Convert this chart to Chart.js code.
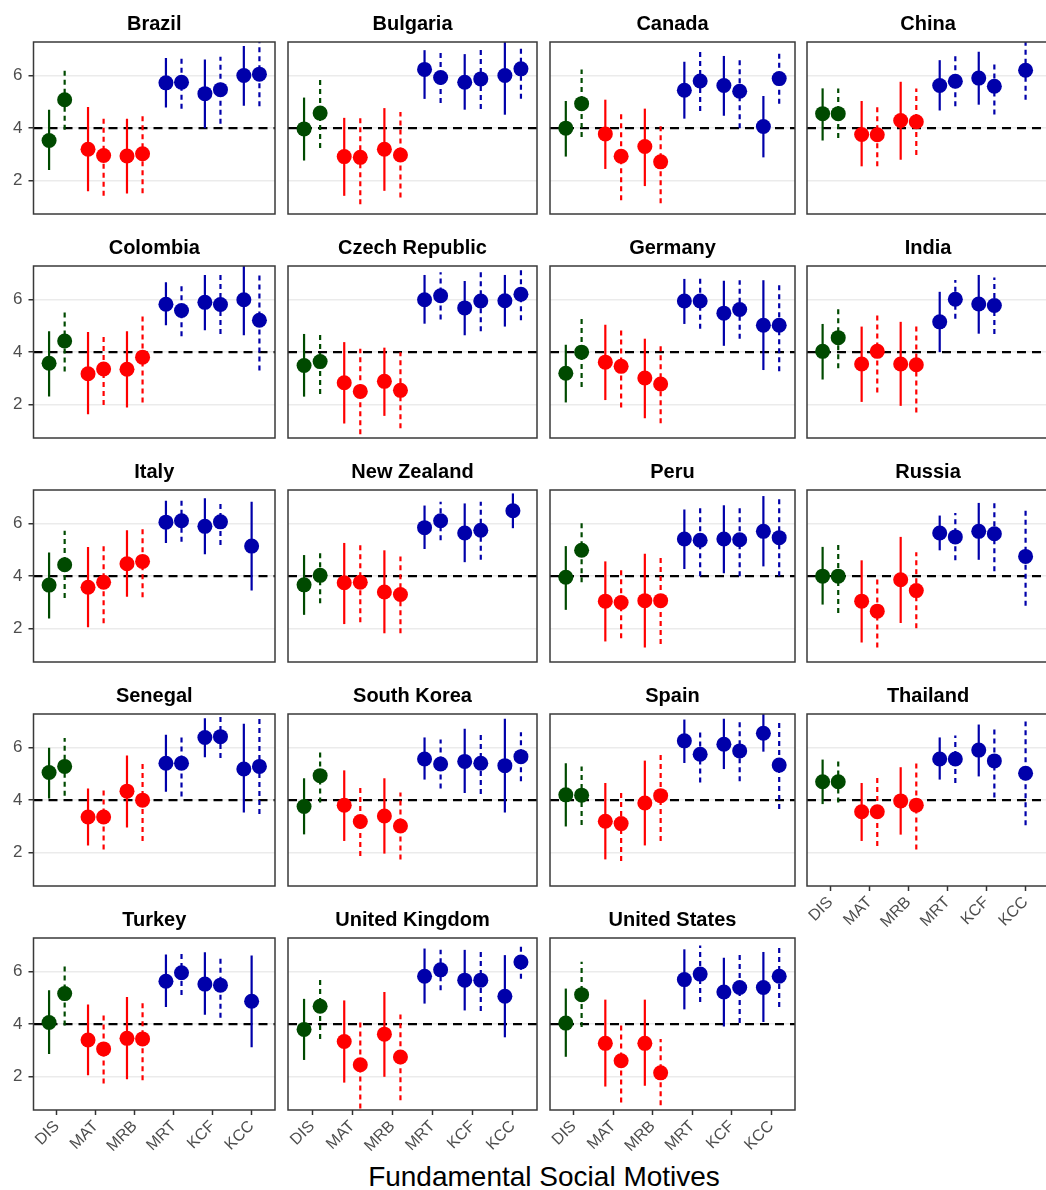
<!DOCTYPE html>
<html>
<head>
<meta charset="utf-8">
<script src="https://cdn.jsdelivr.net/npm/chart.js@4.4.1/dist/chart.umd.min.js"></script>
<style>
  body { margin: 0; background: #fff; }
  #wrap { position: relative; width: 1046px; height: 1190px; overflow: hidden; background: #fff; }
  #wrap canvas { position: absolute; }
  #xtitle {
    position: absolute; left: 244px; width: 600px; top: 1160px;
    text-align: center; line-height: 34px; font-size: 28px;
    font-family: "Liberation Sans", Arial, Helvetica, sans-serif; color: #000;
  }
</style>
</head>
<body>
<div id="wrap">
  <div id="xtitle">Fundamental Social Motives</div>
</div>
<script>
// Data: mean and bar ends per country, two groups
const countries = ['Brazil', 'Bulgaria', 'Canada', 'China', 'Colombia', 'Czech Republic',
  'Germany', 'India', 'Italy', 'New Zealand', 'Peru', 'Russia', 'Senegal', 'South Korea',
  'Spain', 'Thailand', 'Turkey', 'United Kingdom', 'United States']
const motives = ['DIS', 'MAT', 'MRB', 'MRT', 'KCF', 'KCC']
const yTicks = [2, 4, 6]
const midpoint = 4

// solid line group
const solidMean = [
  [3.53, 3.20, 2.94, 5.72, 5.31, 6.00],
  [3.97, 2.92, 3.20, 6.23, 5.74, 6.00],
  [4.00, 3.78, 3.30, 5.44, 5.62, 4.06],
  [4.55, 3.76, 4.29, 5.62, 5.90, null],
  [3.58, 3.18, 3.35, 5.82, 5.89, 5.99],
  [3.49, 2.84, 2.89, 5.99, 5.68, 5.95],
  [3.20, 3.62, 3.02, 5.94, 5.48, 5.02],
  [4.03, 3.55, 3.55, 5.15, 5.83, null],
  [3.66, 3.58, 4.47, 6.05, 5.89, 5.14],
  [3.67, 3.75, 3.40, 5.84, 5.64, 6.48],
  [3.96, 3.05, 3.07, 5.41, 5.41, 5.70],
  [4.00, 3.05, 3.86, 5.64, 5.70, null],
  [5.05, 3.36, 4.34, 5.40, 6.38, 5.18],
  [3.76, 3.81, 3.40, 5.56, 5.47, 5.31],
  [4.20, 3.20, 3.89, 6.25, 6.12, 6.54],
  [4.70, 3.56, 3.97, 5.56, 5.90, null],
  [4.06, 3.40, 3.46, 5.63, 5.52, 4.87],
  [3.80, 3.34, 3.62, 5.82, 5.67, 5.06],
  [4.04, 3.27, 3.27, 5.69, 5.22, 5.39]
]
const solidLow = [
  [2.41, 1.60, 1.52, 4.78, 4.00, 4.85],
  [2.77, 1.43, 1.62, 5.11, 4.70, 4.51],
  [2.92, 2.45, 1.80, 4.36, 4.47, 2.89],
  [3.53, 2.55, 2.80, 4.67, 4.89, null],
  [2.32, 1.64, 1.90, 5.02, 4.83, 4.64],
  [2.31, 1.29, 1.58, 5.08, 4.64, 4.97],
  [2.09, 2.18, 1.49, 5.07, 4.24, 3.32],
  [2.96, 2.11, 1.96, 4.00, 4.70, null],
  [2.39, 2.06, 3.22, 5.26, 4.83, 3.45],
  [2.53, 2.18, 1.83, 5.03, 4.53, 5.82],
  [2.72, 1.52, 1.29, 4.27, 4.11, 4.37],
  [2.92, 1.48, 2.22, 4.98, 4.62, null],
  [4.06, 2.28, 2.96, 4.32, 5.63, 3.53],
  [2.70, 2.45, 1.97, 4.78, 4.27, 3.53],
  [3.00, 1.75, 2.28, 5.41, 5.18, 5.84],
  [3.85, 2.45, 2.69, 4.78, 4.90, null],
  [2.87, 2.06, 1.91, 4.65, 4.36, 3.12],
  [2.64, 1.78, 2.00, 4.78, 4.52, 3.50],
  [2.76, 1.63, 1.66, 4.56, 3.91, 4.08]
]
const solidHigh = [
  [4.70, 4.80, 4.36, 6.66, 6.61, 7.12],
  [5.16, 4.39, 4.76, 6.96, 6.81, 7.30],
  [5.03, 5.08, 4.74, 6.52, 6.74, 5.22],
  [5.51, 5.03, 5.76, 6.58, 6.90, null],
  [4.79, 4.76, 4.79, 6.65, 6.93, 7.30],
  [4.69, 4.38, 4.17, 6.93, 6.70, 6.93],
  [4.28, 5.04, 4.51, 6.78, 6.71, 6.73],
  [5.07, 4.97, 5.15, 6.29, 6.93, null],
  [4.90, 5.11, 5.74, 6.86, 6.96, 6.82],
  [4.80, 5.26, 4.98, 6.68, 6.76, 7.14],
  [5.14, 4.56, 4.85, 6.53, 6.69, 7.04],
  [5.11, 4.60, 5.49, 6.30, 6.78, null],
  [5.99, 4.44, 5.69, 6.48, 7.11, 6.90],
  [4.83, 5.13, 4.83, 6.38, 6.71, 7.09],
  [5.40, 4.65, 5.50, 7.06, 7.09, 7.30],
  [5.54, 4.65, 5.25, 6.38, 6.87, null],
  [5.29, 4.75, 5.03, 6.64, 6.73, 6.61],
  [4.96, 4.90, 5.22, 6.87, 6.82, 6.62],
  [5.35, 4.93, 4.93, 6.84, 6.52, 6.74]
]

// dashed line group
const dashedMean = [
  [5.08, 2.96, 3.03, 5.74, 5.46, 6.05],
  [4.57, 2.89, 2.98, 5.92, 5.87, 6.25],
  [4.93, 2.93, 2.72, 5.79, 5.40, 5.88],
  [4.55, 3.75, 4.24, 5.78, 5.59, 6.20],
  [4.42, 3.36, 3.81, 5.58, 5.81, 5.21],
  [3.64, 2.51, 2.55, 6.14, 5.94, 6.20],
  [4.00, 3.46, 2.79, 5.94, 5.62, 5.02],
  [4.55, 4.03, 3.52, 6.01, 5.77, null],
  [4.43, 3.77, 4.56, 6.10, 6.06, null],
  [4.03, 3.77, 3.30, 6.10, 5.74, null],
  [4.98, 3.00, 3.07, 5.36, 5.38, 5.46],
  [4.00, 2.67, 3.45, 5.49, 5.61, 4.75],
  [5.28, 3.36, 4.00, 5.40, 6.41, 5.28],
  [4.93, 3.19, 3.02, 5.37, 5.40, 5.65],
  [4.19, 3.11, 4.17, 5.74, 5.87, 5.33],
  [4.70, 3.56, 3.81, 5.56, 5.49, 5.02],
  [5.16, 3.06, 3.44, 5.95, 5.48, null],
  [4.68, 2.46, 2.75, 6.06, 5.67, 6.36],
  [5.12, 2.61, 2.15, 5.90, 5.39, 5.82]
]
const dashedLow = [
  [3.94, 1.43, 1.53, 4.74, 4.17, 4.83],
  [3.25, 1.11, 1.37, 4.95, 4.73, 5.12],
  [3.66, 1.26, 1.15, 4.65, 4.00, 4.93],
  [3.63, 2.55, 2.98, 4.83, 4.52, 5.08],
  [3.26, 1.99, 2.09, 4.60, 4.69, 3.30],
  [2.41, 0.88, 1.11, 5.24, 4.79, 5.21],
  [2.68, 1.90, 1.30, 4.89, 4.51, 3.27],
  [3.39, 2.47, 1.71, 5.27, 4.69, null],
  [3.17, 2.21, 3.20, 5.31, 5.18, null],
  [2.97, 2.25, 1.83, 5.36, 4.62, null],
  [3.77, 1.64, 1.42, 4.00, 4.00, 4.00],
  [2.60, 1.29, 2.02, 4.60, 4.19, 2.88],
  [4.17, 2.13, 2.45, 4.14, 5.60, 3.47],
  [3.91, 1.88, 1.75, 4.44, 4.23, 4.72],
  [3.06, 1.69, 2.45, 4.67, 4.72, 3.66],
  [3.91, 2.26, 2.13, 4.65, 4.10, 3.05],
  [3.95, 1.75, 1.87, 5.11, 4.24, null],
  [3.44, 0.80, 1.11, 5.29, 4.50, 5.72],
  [3.89, 1.02, 0.92, 4.84, 4.04, 4.65]
]
const dashedHigh = [
  [6.20, 4.45, 4.55, 6.71, 6.71, 7.30],
  [5.90, 4.48, 4.61, 6.88, 6.99, 7.09],
  [6.23, 4.55, 4.17, 6.90, 6.68, 6.86],
  [5.50, 4.87, 5.50, 6.74, 6.48, 7.30],
  [5.55, 4.69, 5.48, 6.55, 6.93, 7.03],
  [4.74, 4.13, 4.00, 7.03, 7.03, 7.16],
  [5.27, 4.94, 4.25, 6.85, 6.73, 6.65],
  [5.71, 5.50, 5.08, 6.74, 6.83, null],
  [5.72, 5.26, 5.87, 6.91, 6.78, null],
  [4.94, 5.26, 4.75, 6.82, 6.82, null],
  [6.08, 4.32, 4.75, 6.60, 6.72, 6.99],
  [5.30, 3.96, 4.91, 6.40, 6.88, 6.57],
  [6.36, 4.44, 5.46, 6.45, 7.19, 7.11],
  [5.87, 4.52, 4.29, 6.30, 6.52, 6.58],
  [5.28, 4.36, 5.84, 6.64, 7.00, 7.00],
  [5.49, 4.85, 5.46, 6.45, 6.77, 6.99],
  [6.24, 4.37, 4.90, 6.71, 6.56, null],
  [5.75, 4.14, 4.37, 6.82, 6.79, 6.94],
  [6.37, 4.04, 3.44, 6.99, 6.75, 6.97]
]

// Styling / layout
const motiveColors = ['#004a00', '#ff0000', '#ff0000', '#0000aa', '#0000aa', '#0000aa']
const FONT = '"Liberation Sans", Arial, Helvetica, sans-serif'
const colLeft = [33.5, 288.3, 550, 807.3]
const colWidth = [241.8, 249, 245, 242]
const rowTop = [42, 266.3, 490, 713.7, 937.7]
const panelH = 171.5
const titleH = 4 + 20 * 1.2 + 6
const dodge = 0.2

Chart.defaults.font.family = FONT

const frame = {
  id: 'frame',
  afterDraw(chart) {
    const a = chart.chartArea
    const c = chart.ctx
    c.save()
    c.strokeStyle = '#3a3a3a'
    c.lineWidth = 1.5
    c.strokeRect(a.left, a.top, a.right - a.left, a.bottom - a.top)
    c.restore()
  }
}

const wrap = document.getElementById('wrap')
const n = countries.length

function errorBar(x, lo, hi, color, dashed) {
  return {
    type: 'line',
    data: [{ x: x, y: lo }, { x: x, y: hi }],
    borderColor: color,
    borderWidth: 2.2,
    borderDash: dashed ? [5, 4] : [],
    pointRadius: 0,
    order: 2
  }
}

countries.forEach((name, i) => {
  const row = Math.floor(i / 4)
  const col = i % 4
  const first = col === 0
  const bottom = i + 4 >= n
  const padL = first ? 0 : 2
  const yW = first ? 33.5 : 0
  const xH = bottom ? 62 : 2

  const canvas = document.createElement('canvas')
  const w = Math.round(padL + yW + colWidth[col] + 4)
  const h = Math.round(titleH + panelH + xH)
  canvas.width = w
  canvas.height = h
  canvas.style.width = w + 'px'
  canvas.style.height = h + 'px'
  canvas.style.left = (colLeft[col] - yW - padL) + 'px'
  canvas.style.top = (rowTop[row] - titleH) + 'px'
  wrap.appendChild(canvas)

  const datasets = []
  const ptsA = [], colA = [], ptsB = [], colB = []
  motives.forEach((m, c) => {
    const a = solidMean[i][c], b = dashedMean[i][c]
    const both = a !== null && b !== null
    if (a !== null) {
      const x = c + 1 - (both ? dodge : 0)
      datasets.push(errorBar(x, solidLow[i][c], solidHigh[i][c], motiveColors[c], false))
      ptsA.push({ x: x, y: a }); colA.push(motiveColors[c])
    }
    if (b !== null) {
      const x = c + 1 + (both ? dodge : 0)
      datasets.push(errorBar(x, dashedLow[i][c], dashedHigh[i][c], motiveColors[c], true))
      ptsB.push({ x: x, y: b }); colB.push(motiveColors[c])
    }
  })
  datasets.push({ type: 'scatter', data: ptsA, pointBackgroundColor: colA, pointRadius: 7.5, pointBorderWidth: 0, order: 1 })
  datasets.push({ type: 'scatter', data: ptsB, pointBackgroundColor: colB, pointRadius: 7.5, pointBorderWidth: 0, order: 1 })
  datasets.push({
    type: 'line',
    data: [{ x: 0.4, y: midpoint }, { x: 6.6, y: midpoint }],
    borderColor: '#000', borderWidth: 2.2, borderDash: [9, 6], pointRadius: 0, order: 3
  })

  new Chart(canvas, {
    type: 'scatter',
    data: { datasets },
    options: {
      responsive: false,
      animation: false,
      events: [],
      layout: { autoPadding: false, padding: { left: padL, right: 4, top: 0, bottom: 0 } },
      plugins: {
        legend: { display: false },
        tooltip: { enabled: false },
        title: {
          display: true, text: name, fullSize: false, color: '#000',
          font: { size: 20, weight: 'bold' }, padding: { top: 4, bottom: 6 }
        }
      },
      scales: {
        x: {
          type: 'linear', min: 0.4, max: 6.6,
          afterBuildTicks: s => { s.ticks = motives.map((m, k) => ({ value: k + 1 })) },
          afterFit: s => { s.height = xH; s.paddingLeft = 0; s.paddingRight = 0 },
          border: { display: false },
          grid: { display: bottom, drawOnChartArea: false, drawTicks: true, tickLength: 5, tickColor: '#333', tickWidth: 1.5 },
          ticks: {
            display: bottom, autoSkip: false, minRotation: 45, maxRotation: 45, padding: 2,
            color: '#4d4d4d', font: { size: 16 },
            callback: (v, k) => motives[k]
          }
        },
        y: {
          min: 0.74, max: 7.27,
          afterBuildTicks: s => { s.ticks = yTicks.map(v => ({ value: v })) },
          afterFit: s => { s.width = yW; s.paddingTop = 0; s.paddingBottom = 0 },
          border: { display: false },
          grid: { color: '#ebebeb', lineWidth: 1.5, drawTicks: first, tickLength: 5, tickColor: '#333', tickWidth: 1.5 },
          ticks: { display: first, padding: 6, color: '#4d4d4d', font: { size: 17 } }
        }
      }
    },
    plugins: [frame]
  })
})
</script>
</body>
</html>
